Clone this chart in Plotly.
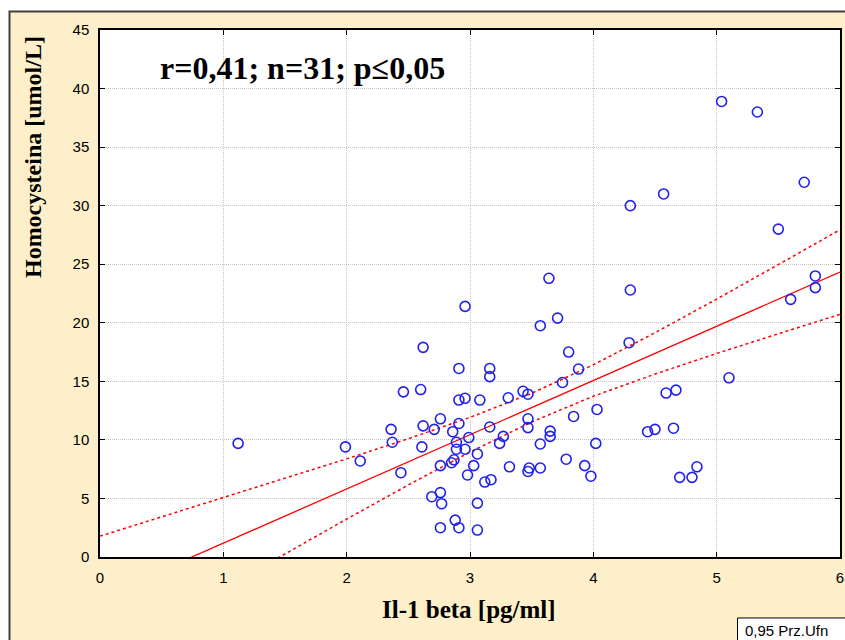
import plotly.graph_objects as go

# Data
il1_beta = [1.12, 1.99, 2.11, 2.36, 2.37, 2.44, 2.46, 2.60, 2.62, 2.62, 2.61, 2.69, 2.71, 2.76, 2.76,
            2.76, 2.77, 2.76, 2.85, 2.87, 2.86, 2.88, 2.89, 2.89, 2.91, 2.91, 2.91, 2.91, 2.96, 2.96,
            2.96, 2.98, 2.99, 3.03, 3.06, 3.06, 3.06, 3.08, 3.12, 3.16, 3.16, 3.16, 3.17, 3.24, 3.27,
            3.31, 3.32, 3.43, 3.47, 3.47, 3.47, 3.47, 3.48, 3.57, 3.57, 3.57, 3.64, 3.65, 3.65, 3.71,
            3.75, 3.78, 3.80, 3.84, 3.88, 3.93, 3.98, 4.02, 4.03, 4.29, 4.30, 4.30, 4.44, 4.50, 4.57,
            4.59, 4.65, 4.67, 4.70, 4.80, 4.84, 5.04, 5.10, 5.33, 5.50, 5.60, 5.71, 5.80, 5.80]
homocysteina = [9.7, 9.4, 8.2, 10.9, 9.8, 7.2, 14.1, 14.3, 17.9, 11.2, 9.4, 5.15, 10.9, 11.8, 7.8,
                5.5, 4.55, 2.5, 8.05, 8.3, 10.7, 3.15, 9.8, 9.2, 16.1, 13.4, 11.4, 2.5, 21.4, 13.55,
                9.2, 7.0, 10.2, 7.8, 8.8, 4.6, 2.3, 13.4, 6.4, 16.1, 15.4, 11.1, 6.6, 9.7, 10.3,
                13.6, 7.7, 14.15, 13.9, 11.8, 11.05, 7.3, 7.6, 19.75, 9.65, 7.6, 23.8, 10.75, 10.3, 20.4,
                14.9, 8.35, 17.5, 12.0, 16.05, 7.8, 6.9, 9.7, 12.6, 18.3, 30.0, 22.8, 10.7, 10.9, 31.0,
                14.0, 11.0, 14.25, 6.8, 6.8, 7.7, 38.9, 15.3, 38.0, 28.0, 22.0, 32.0, 24.0, 23.0]

fit_x = [0.0, 6.0]
fit_y = [-3.45, 24.33]

band_x = [0.0, 0.5, 1.0, 1.5, 2.0, 2.5, 3.0, 3.5, 4.0, 4.5, 5.0, 5.5, 6.0]
band_upper = [1.78, 3.42, 5.05, 6.70, 8.38, 10.10, 11.92, 13.98, 16.41, 19.15, 22.02, 24.97, 27.94]
band_lower = [-8.68, -5.69, -2.69, 0.29, 3.24, 6.15, 8.96, 11.53, 13.73, 15.62, 17.38, 19.06, 20.72]

x_ticks = [0, 1, 2, 3, 4, 5, 6]
y_ticks = [0, 5, 10, 15, 20, 25, 30, 35, 40, 45]

BEIGE = "#fdefc9"
RED = "#ff0000"

fig = go.Figure()
fig.add_trace(go.Scatter(x=band_x, y=band_upper, mode="lines",
                         line=dict(color=RED, width=1.5, dash="3px,3px"), hoverinfo="skip"))
fig.add_trace(go.Scatter(x=band_x, y=band_lower, mode="lines",
                         line=dict(color=RED, width=1.5, dash="3px,3px"), hoverinfo="skip"))
fig.add_trace(go.Scatter(x=fit_x, y=fit_y, mode="lines",
                         line=dict(color=RED, width=1.3), hoverinfo="skip"))
fig.add_trace(go.Scatter(x=il1_beta, y=homocysteina, mode="markers",
                         marker=dict(symbol="circle-open", size=10, color="#2020f0",
                                     line=dict(width=1.6, color="#2020f0"))))

axis_common = dict(showline=True, linecolor="#000000", linewidth=1.5, mirror="ticks",
                   ticks="inside", ticklen=5, tickwidth=1.2, tickcolor="#000000",
                   showgrid=True, gridcolor="#c4c4c4", griddash="1px,1px", gridwidth=1,
                   zeroline=False, automargin=False,
                   tickfont=dict(family="Liberation Sans, Arial", size=15, color="#000000"))

fig.update_xaxes(range=[0, 6], tickvals=x_ticks, ticktext=[str(v) for v in x_ticks],
                 ticklabelstandoff=6, **axis_common)
fig.update_yaxes(range=[0, 45], tickvals=y_ticks, ticktext=[str(v) for v in y_ticks],
                 ticklabelstandoff=6, **axis_common)

serif = "Liberation Serif, Times New Roman, serif"
fig.update_layout(
    width=845, height=640,
    margin=dict(l=100, r=5, t=30, b=83, autoexpand=False),
    paper_bgcolor=BEIGE, plot_bgcolor="#ffffff",
    showlegend=False,
    shapes=[
        dict(type="rect", xref="paper", yref="paper", x0=-0.2, x1=1.1, y0=1.036, y1=1.1,
             fillcolor="#ffffff", line=dict(width=0), layer="below"),
        dict(type="rect", xref="paper", yref="paper", x0=-0.2, x1=-0.123, y0=-0.3, y1=1.1,
             fillcolor="#ffffff", line=dict(width=0), layer="below"),
        dict(type="rect", xref="paper", yref="paper", x0=-0.1223, x1=1.05, y0=1.035, y1=-0.25,
             line=dict(color="#404040", width=2), layer="below"),
        dict(type="rect", xref="paper", yref="paper", x0=0.8615, x1=1.05, y0=-0.1157, y1=-0.25,
             fillcolor="#ffffff", line=dict(color="#000000", width=1)),
    ],
    annotations=[
        dict(text="<b>r=0,41; n=31; p≤0,05</b>", xref="paper", yref="paper", x=0.273, y=0.928,
             showarrow=False, font=dict(family=serif, size=32, color="#000000"),
             xanchor="center", yanchor="middle"),
        dict(text="<b>Il-1 beta [pg/ml]</b>", xref="paper", yref="paper", x=0.4986, y=-0.0987,
             showarrow=False, font=dict(family=serif, size=25, color="#000000"),
             xanchor="center", yanchor="middle"),
        dict(text="<b>Homocysteina [umol/L]</b>", xref="paper", yref="paper", x=-0.0905, y=0.759,
             showarrow=False, textangle=-90, font=dict(family=serif, size=24, color="#000000"),
             xanchor="center", yanchor="middle"),
        dict(text="0,95 Prz.Ufn", xref="paper", yref="paper", x=0.8689, y=-0.1404,
             showarrow=False, font=dict(family="Liberation Sans, Arial", size=15, color="#000000"),
             xanchor="left", yanchor="middle"),
    ],
)

fig.write_html("out.html")
